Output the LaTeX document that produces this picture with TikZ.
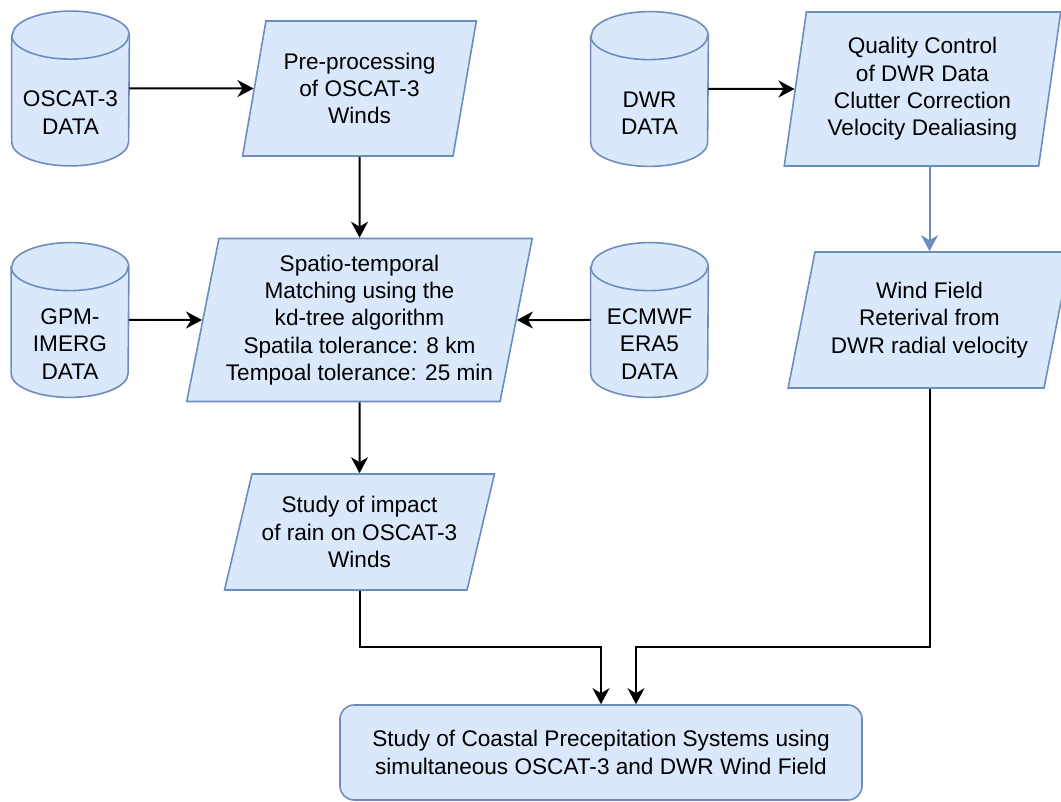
\documentclass[tikz,border=0pt]{standalone}
\usepackage{fontspec}
\setmainfont{Liberation Sans}
\usetikzlibrary{shapes.geometric,arrows.meta,backgrounds}

\definecolor{boxfill}{HTML}{DAE8FC}
\definecolor{boxline}{HTML}{6C8EBF}

\begin{document}
\begin{tikzpicture}[x=0.5pt,y=-0.5pt,
  font=\fontsize{11.3pt}{13.7pt}\selectfont,
  drum/.style={minimum width=58.5pt, minimum height=77pt, inner sep=0pt},
  drumtext/.style={align=center, yshift=-12pt},
  drumline/.style={draw=boxline, fill=boxfill, line width=0.8pt},
  io/.style={trapezium, trapezium stretches=true, draw=boxline, fill=boxfill, line width=0.8pt, align=center, inner sep=2pt},
  flow/.style={-{Stealth[length=8pt,width=8.5pt,inset=2.5pt]}, line width=1pt},
]
\useasboundingbox (0,0) rectangle (1061,802);

% top row
\node[drum, label={[drumtext]center:{OSCAT-3\\DATA}}] (oscat) at (70.5,88.5) {};
\node[io, trapezium left angle=75.9, trapezium right angle=104.1, minimum width=117pt, minimum height=67.5pt] (prep) at (359.5,88.5) {Pre-processing\\of OSCAT-3\\Winds};
\node[drum, label={[drumtext]center:{DWR\\DATA}}] (dwr) at (649.5,89) {};
\node[io, trapezium left angle=80.4, trapezium right angle=99.6, minimum width=138.5pt, minimum height=77pt] (qc) at (922.5,89) {Quality Control\\of DWR Data\\Clutter Correction\\Velocity Dealiasing};

% middle row
\node[drum, label={[drumtext]center:{GPM-\\IMERG\\DATA}}] (gpm) at (70,320) {};
\node[io, trapezium left angle=77.2, trapezium right angle=102.8, minimum width=173pt, minimum height=81.5pt] (match) at (359.5,320) {Spatio-temporal\\Matching using the\\kd-tree algorithm\\Spatila tolerance: 8 km\\Tempoal tolerance: 25 min};
\node[drum, label={[drumtext]center:{ECMWF\\ERA5\\DATA}}] (era) at (649.5,320) {};
\node[io, trapezium left angle=74, trapezium right angle=106, minimum width=141.5pt, minimum height=68pt] (wind) at (929.5,320) {Wind Field\\Reterival from\\DWR radial velocity};

% bottom
\node[io, trapezium left angle=71.9, trapezium right angle=108.1, minimum width=135pt, minimum height=58pt] (impact) at (359.5,532) {Study of impact\\of rain on OSCAT-3\\Winds};
\node[draw=boxline, fill=boxfill, line width=0.8pt, rounded corners=7pt, minimum width=261pt, minimum height=47.5pt, align=center] (final) at (601,752.5) {Study of Coastal Precepitation Systems using\\simultaneous OSCAT-3 and DWR Wind Field};

% drums
\begin{scope}[on background layer]
  \foreach \d in {oscat,dwr,gpm,era}{
    \filldraw[drumline] ([yshift=-12pt]\d.north west) -- ([yshift=12pt]\d.south west)
      arc[start angle=180, end angle=360, x radius=29.25pt, y radius=12pt]
      -- ([yshift=-12pt]\d.north east)
      arc[start angle=0, end angle=180, x radius=29.25pt, y radius=12pt] -- cycle;
    \draw[drumline, fill=none] ([yshift=-12pt]\d.north west)
      arc[start angle=180, end angle=360, x radius=29.25pt, y radius=12pt];
  }
\end{scope}

\draw[flow] (oscat) -- (prep);
\draw[flow] (prep) -- (match);
\draw[flow] (gpm) -- (match);
\draw[flow] (era) -- (match);
\draw[flow] (match) -- (impact);
\draw[flow] (dwr) -- (qc);
\draw[flow, color=boxline] (qc.south -| wind.north) -- (wind.north);

\coordinate (merge) at (0,647);
\draw[flow] (impact.south) -- (impact.south |- merge) -| (final.north);
\draw[flow] (wind.south) -- (wind.south |- merge) -| ([xshift=17.5pt]final.north);
\end{tikzpicture}
\end{document}
